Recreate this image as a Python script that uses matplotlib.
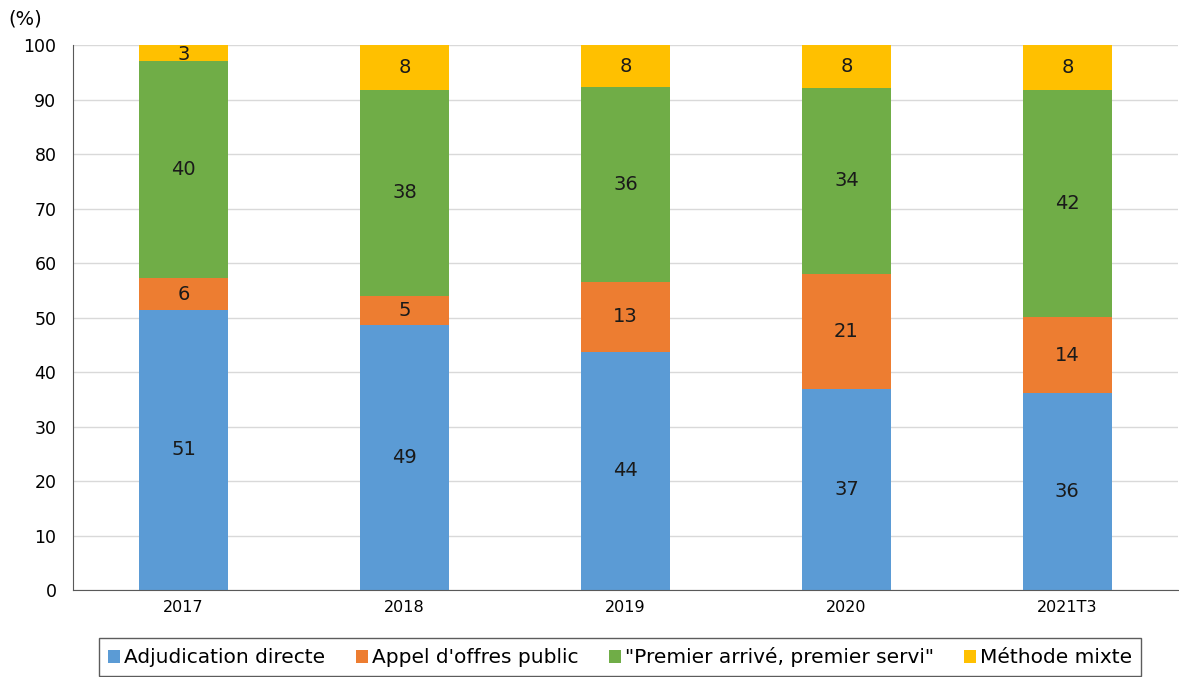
import matplotlib.pyplot as plt
import numpy as np

years = ['2017', '2018', '2019', '2020', '2021T3']
series = ['Adjudication directe', "Appel d'offres public",
          '"Premier arrivé, premier servi"', 'Méthode mixte']
adjudication = [51.4, 48.6, 43.7, 36.9, 36.1]
appel = [5.8, 5.4, 12.8, 21.1, 14.0]
premier = [39.9, 37.8, 35.8, 34.1, 41.6]
mixte = [2.9, 8.2, 7.7, 7.9, 8.3]
colors = ['#5B9BD5', '#ED7D31', '#70AD47', '#FFC000']

data = [adjudication, appel, premier, mixte]
x = np.arange(len(years))

fig = plt.figure(figsize=(11.79, 6.77), dpi=100)
ax = fig.add_axes([0.062, 0.1285, 0.937, 0.805])

bottom = np.zeros(len(years))
for vals, name, c in zip(data, series, colors):
    vals = np.array(vals)
    ax.bar(x, vals, 0.4, bottom=bottom, color=c, label=name, zorder=2)
    for xi, b, v in zip(x, bottom, vals):
        y = b + v / 2
        if v < 4:
            y = b + v / 2 - 0.3
        ax.text(xi, y, str(int(round(v))), ha='center', va='center', fontsize=14, color='#1a1a1a', zorder=3)
    bottom = bottom + vals

ax.set_xlim(-0.5, len(years) - 0.5)
ax.set_ylim(0, 100)
ax.set_yticks(np.arange(0, 101, 10))
ax.set_xticks(x)
ax.set_xticklabels(years, fontsize=11.5)
ax.tick_params(axis='y', labelsize=12.5, length=0, pad=12)
ax.tick_params(axis='x', length=0, pad=7)
ax.grid(axis='y', color='#D9D9D9', linewidth=1, zorder=0)
for s in ['top', 'right']:
    ax.spines[s].set_visible(False)
ax.spines['left'].set_color('#595959')
ax.spines['bottom'].set_color('#595959')

fig.text(0.007, 0.972, '(%)', fontsize=14, va='center')

leg = fig.legend(loc='center', ncol=4, fontsize=14.5,
                 handlelength=0.6, handleheight=0.6, handletextpad=0.2, columnspacing=1.5,
                 frameon=True, fancybox=False, edgecolor='#333333', borderpad=0.45)
leg.set_bbox_to_anchor((0.526, 0.029), transform=fig.transFigure)
leg.get_frame().set_linewidth(1)

plt.savefig('out.png', dpi=100)
